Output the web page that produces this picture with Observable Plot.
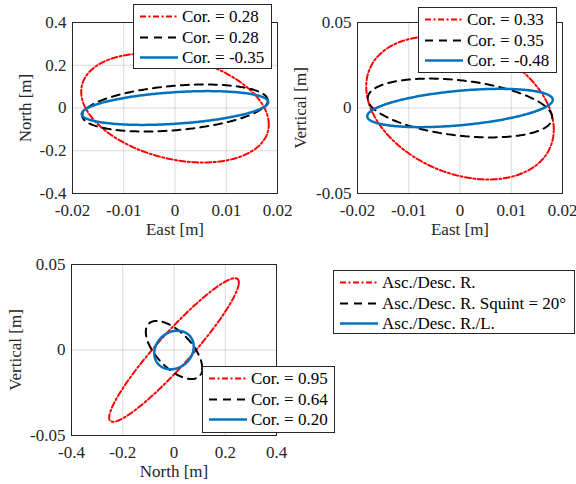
<!DOCTYPE html>
<html>
<head>
<meta charset="utf-8">
<script src="https://cdn.jsdelivr.net/npm/d3@7"></script>
<script src="https://cdn.jsdelivr.net/npm/@observablehq/plot@0.6"></script>
<style>
  body { margin: 0; background: white; }
  #chart { position: relative; width: 576px; height: 484px; background: white; overflow: hidden;
           font-family: "Liberation Serif", "Times New Roman", serif; color: #262626; }
  #chart svg.plotsvg { position: absolute; }
  .legend { position: absolute; box-sizing: border-box; border: 1px solid #262626; background: white;
            padding-top: 2px; font-size: 17px; line-height: 20.5px; color: #000; }
  .legend .row { height: 20.5px; white-space: nowrap; }
  .legend .row svg { display: inline-block; vertical-align: top; margin-left: 6px; }
  .legend .row span { margin-left: 4px; vertical-align: top; }
</style>
</head>
<body>
<div id="chart"></div>
<script>
// ---- series (same order in every panel) ----
const seriesNames = ["Asc./Desc. R.", "Asc./Desc. R. Squint = 20°", "Asc./Desc. R./L."];
const seriesColors = ["#ff0000", "#000000", "#0072bd"];
const seriesDash = ["6,2.5,2,2.5", "8,6", null];
const seriesWidth = [2, 2, 2.5];

// ---- panel 1: East / North ----
const corEN = ["0.28", "0.28", "-0.35"];
const sxEN = [0.0183, 0.0181, 0.0182];   // half-extent along East [m]
const syEN = [0.255, 0.110, 0.079];      // half-extent along North [m]
const rhoEN = [-0.30, 0.32, 0.35];       // shape tilt

// ---- panel 2: East / Vertical ----
const corEV = ["0.33", "0.35", "-0.48"];
const sxEV = [0.0183, 0.0180, 0.0181];
const syEV = [0.0418, 0.0172, 0.0112];
const rhoEV = [-0.30, -0.33, 0.43];

// ---- panel 3: North / Vertical ----
const corNV = ["0.95", "0.64", "0.20"];
const sxNV = [0.253, 0.110, 0.077];
const syNV = [0.0420, 0.0170, 0.0113];
const rhoNV = [0.94, -0.62, 0.17];

// ---- ticks ----
const xTicksEast = [-0.02, -0.01, 0, 0.01, 0.02];
const yTicksNorth = [-0.4, -0.2, 0, 0.2, 0.4];
const yTicksVert = [-0.05, 0, 0.05];
const xTicksNorth = [-0.4, -0.2, 0, 0.2, 0.4];

function ellipse(sx, sy, rho, n = 360) {
  const k = Math.sqrt(1 - rho * rho);
  return d3.range(n + 1).map(i => {
    const t = 2 * Math.PI * i / n;
    return {x: sx * Math.cos(t), y: sy * (rho * Math.cos(t) + k * Math.sin(t))};
  });
}

const chart = document.getElementById("chart");
const fmt = d => String(d);

function panel({left, top, width, height, margins, xDomain, yDomain, xTicks, yTicks, xLabel, yLabel, yLabelOffset, sx, sy, rho}) {
  const marks = [
    Plot.gridX(xTicks, {stroke: "#000", strokeOpacity: 0.15}),
    Plot.gridY(yTicks, {stroke: "#000", strokeOpacity: 0.15}),
  ];
  for (let i = 0; i < sx.length; i++) {
    marks.push(Plot.line(ellipse(sx[i], sy[i], rho[i]), {
      x: "x", y: "y", stroke: seriesColors[i], strokeWidth: seriesWidth[i],
      strokeDasharray: seriesDash[i] ?? undefined, strokeLinejoin: "round"
    }));
  }
  marks.push(
    Plot.frame({stroke: "#262626", strokeWidth: 1}),
    Plot.axisX(xTicks, {tickSize: 0, tickPadding: 10, tickFormat: fmt, label: xLabel,
      labelAnchor: "center", labelOffset: 41, labelArrow: "none"}),
    Plot.axisY(yTicks, {tickSize: 0, tickPadding: 6, tickFormat: fmt, label: yLabel,
      labelAnchor: "center", labelOffset: yLabelOffset, labelArrow: "none"})
  );
  const svg = Plot.plot({
    width, height,
    marginLeft: margins[0], marginRight: margins[1], marginTop: margins[2], marginBottom: margins[3],
    x: {domain: xDomain},
    y: {domain: yDomain},
    style: {background: "transparent", overflow: "visible", fontFamily: "'Liberation Serif', 'Times New Roman', serif",
            fontSize: "17px", color: "#262626"},
    marks
  });
  svg.classList.add("plotsvg");
  svg.style.left = left + "px";
  svg.style.top = top + "px";
  svg.style.maxWidth = "none";
  chart.appendChild(svg);
}

function legend({left, top, width, height, labels}) {
  const div = document.createElement("div");
  div.className = "legend";
  Object.assign(div.style, {left: left + "px", top: top + "px", width: width + "px", height: height + "px"});
  labels.forEach((lab, i) => {
    const row = document.createElement("div");
    row.className = "row";
    const dash = seriesDash[i] ? `stroke-dasharray="${seriesDash[i]}"` : "";
    row.innerHTML = `<svg width="38" height="20.5"><line x1="0" x2="38" y1="9.5" y2="9.5" stroke="${seriesColors[i]}" stroke-width="${seriesWidth[i]}" ${dash}/></svg><span></span>`;
    row.querySelector("span").textContent = lab;
    div.appendChild(row);
  });
  chart.appendChild(div);
}

panel({left: 0, top: 0, width: 290, height: 240, margins: [72, 13, 22, 47],
  xDomain: [-0.02, 0.02], yDomain: [-0.4, 0.4], xTicks: xTicksEast, yTicks: yTicksNorth,
  xLabel: "East [m]", yLabel: "North [m]", yLabelOffset: 54, sx: sxEN, sy: syEN, rho: rhoEN});

panel({left: 290, top: 0, width: 286, height: 240, margins: [67, 14, 22, 47],
  xDomain: [-0.02, 0.02], yDomain: [-0.05, 0.05], xTicks: xTicksEast, yTicks: yTicksVert,
  xLabel: "East [m]", yLabel: "Vertical [m]", yLabelOffset: 63.5, sx: sxEV, sy: syEV, rho: rhoEV});

panel({left: 0, top: 240, width: 300, height: 244, margins: [71, 24, 24, 49],
  xDomain: [-0.4, 0.4], yDomain: [-0.05, 0.05], xTicks: xTicksNorth, yTicks: yTicksVert,
  xLabel: "North [m]", yLabel: "Vertical [m]", yLabelOffset: 63, sx: sxNV, sy: syNV, rho: rhoNV});

legend({left: 133, top: 4, width: 139, height: 65, labels: corEN.map(c => "Cor. = " + c)});
legend({left: 418, top: 7, width: 139, height: 66, labels: corEV.map(c => "Cor. = " + c)});
legend({left: 202, top: 366, width: 133, height: 67, labels: corNV.map(c => "Cor. = " + c)});
legend({left: 333, top: 270, width: 242, height: 64, labels: seriesNames});
</script>
</body>
</html>
